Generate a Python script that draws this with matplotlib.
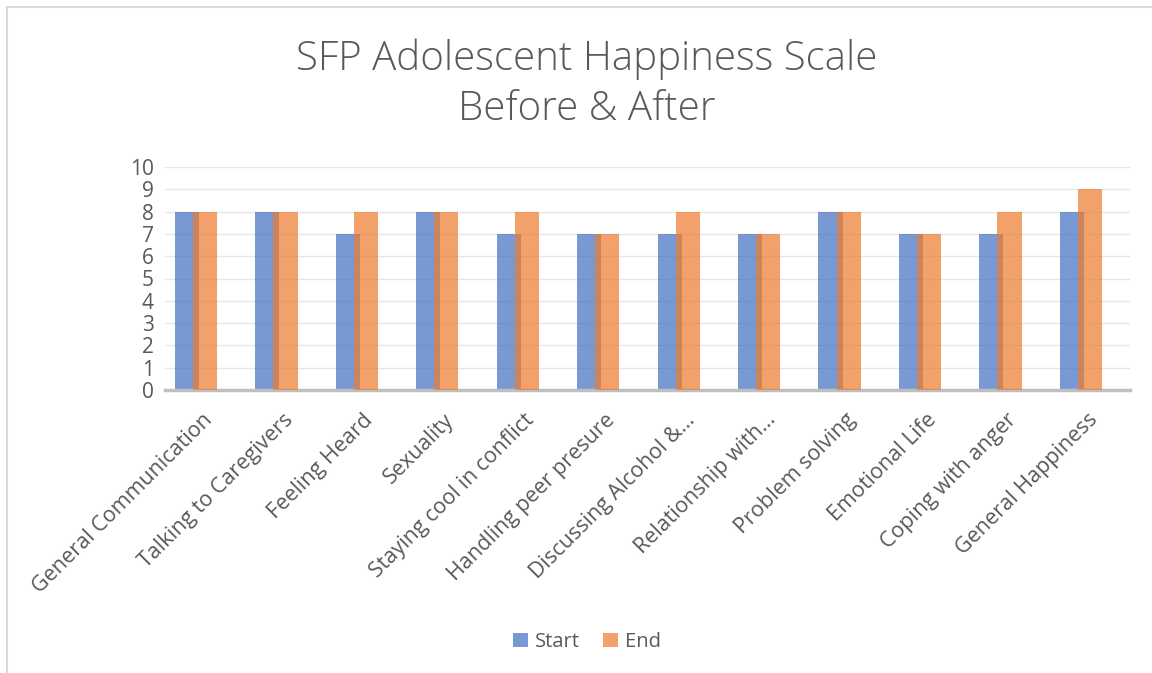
import matplotlib
matplotlib.use("Agg")
from matplotlib import pyplot as plt
from matplotlib.transforms import ScaledTranslation
import numpy as np

categories = ["General Communication", "Talking to Caregivers", "Feeling Heard",
              "Sexuality", "Staying cool in conflict", "Handling peer presure",
              "Discussing Alcohol &…", "Relationship with…", "Problem solving",
              "Emotional Life", "Coping with anger", "General Happiness"]
start_vals = [8, 8, 7, 8, 7, 7, 7, 7, 8, 7, 7, 8]
end_vals = [8, 8, 8, 8, 8, 7, 8, 7, 8, 7, 8, 9]
y_ticks = list(range(0, 11))

plt.rcParams['font.family'] = ['Open Sans', 'DejaVu Sans']
grey = '#595959'

fig = plt.figure(figsize=(11.52, 6.73), dpi=100)
ax = fig.add_axes([165 / 1152, 1 - 390 / 673, 965 / 1152, (390 - 167) / 673])

x = np.arange(len(categories))
w = 0.3
off = 0.225 / 2
ax.bar(x - off, start_vals, w, color='#4472C4', alpha=0.72, label='Start', zorder=2)
ax.bar(x + off, end_vals, w, color='#ED7D31', alpha=0.72, label='End', zorder=3)

ax.set_xlim(-0.385, 11.61)
ax.set_ylim(0, 10)
ax.set_yticks(y_ticks)
ax.set_yticklabels([str(v) for v in y_ticks], fontsize=15, color=grey)
ax.grid(axis='y', color='#e6e6e6', linewidth=1, zorder=0)
ax.set_axisbelow(True)
for s in ['top', 'right', 'left']:
    ax.spines[s].set_visible(False)
ax.spines['bottom'].set_color('#bfbfbf')
ax.spines['bottom'].set_linewidth(2.5)
ax.tick_params(axis='y', length=0, pad=8)
ax.tick_params(axis='x', length=0, pad=14)
ax.set_xticks(x)
ax.set_xticklabels(categories, rotation=45, ha='right', rotation_mode='anchor',
                   fontsize=15.5, color=grey)
shift = ScaledTranslation(6 / 100, 0, fig.dpi_scale_trans)
for lbl in ax.get_xticklabels():
    lbl.set_transform(lbl.get_transform() + shift)

fig.text(587 / 1152, 1 - 59 / 673, "SFP Adolescent Happiness Scale", ha='center', va='center',
         fontsize=29, color=grey, fontweight='light')
fig.text(587 / 1152, 1 - 109 / 673, "Before & After", ha='center', va='center',
         fontsize=29, color=grey, fontweight='light')

leg = fig.legend(loc='center', bbox_to_anchor=(587 / 1152, 1 - 642 / 673), ncol=2,
                 frameon=False, fontsize=14.5, handlelength=0.75, handleheight=0.75,
                 columnspacing=1.1, handletextpad=0.35)
for t in leg.get_texts():
    t.set_color(grey)

# chart frame
fig.add_artist(plt.Line2D([7 / 1152, 7 / 1152], [0, 1 - 7 / 673], color='#d9d9d9', lw=1.5))
fig.add_artist(plt.Line2D([7 / 1152, 1], [1 - 7 / 673, 1 - 7 / 673], color='#d9d9d9', lw=1.5))

fig.savefig('out.png', dpi=100)
